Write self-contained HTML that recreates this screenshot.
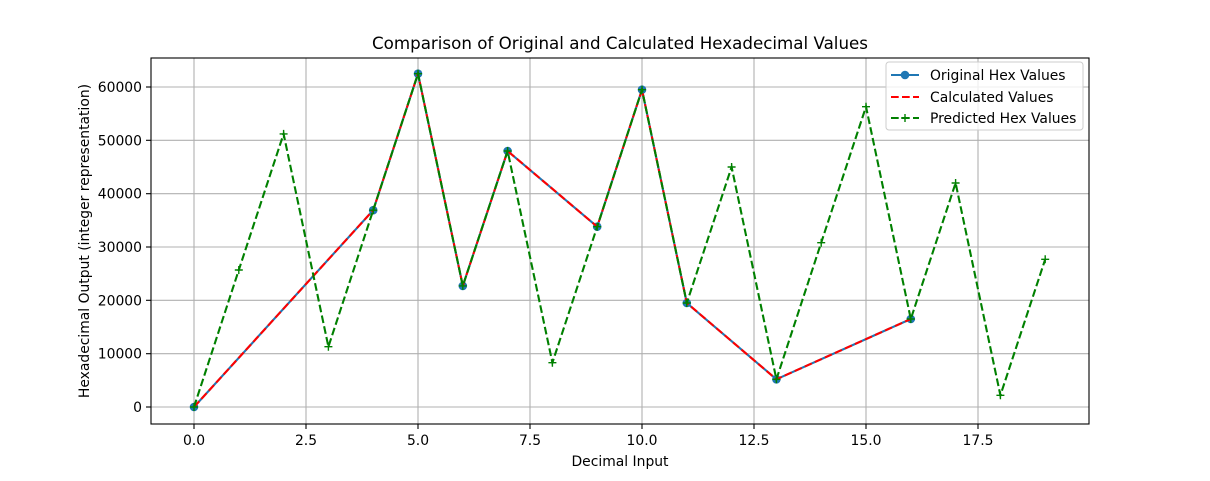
<!DOCTYPE html>
<html><head><meta charset="utf-8"><style>body{margin:0;background:#fff}</style></head><body>
<svg width="1210" height="476" xmlns="http://www.w3.org/2000/svg" font-family="DejaVu Sans, Liberation Sans, sans-serif">
<rect width="1210" height="476" fill="#fff"/>
<g stroke="#b0b0b0" stroke-width="1.1">
<line x1="194" y1="58" x2="194" y2="424"/><line x1="306" y1="58" x2="306" y2="424"/><line x1="418" y1="58" x2="418" y2="424"/><line x1="530" y1="58" x2="530" y2="424"/><line x1="642" y1="58" x2="642" y2="424"/><line x1="754" y1="58" x2="754" y2="424"/><line x1="866" y1="58" x2="866" y2="424"/><line x1="978" y1="58" x2="978" y2="424"/>
<line x1="151" y1="407" x2="1089" y2="407"/><line x1="151" y1="353.7" x2="1089" y2="353.7"/><line x1="151" y1="300.3" x2="1089" y2="300.3"/><line x1="151" y1="247" x2="1089" y2="247"/><line x1="151" y1="193.7" x2="1089" y2="193.7"/><line x1="151" y1="140.3" x2="1089" y2="140.3"/><line x1="151" y1="87" x2="1089" y2="87"/>
</g>
<g stroke="#000" stroke-width="1.1">
<line x1="194" y1="424" x2="194" y2="429"/><line x1="306" y1="424" x2="306" y2="429"/><line x1="418" y1="424" x2="418" y2="429"/><line x1="530" y1="424" x2="530" y2="429"/><line x1="642" y1="424" x2="642" y2="429"/><line x1="754" y1="424" x2="754" y2="429"/><line x1="866" y1="424" x2="866" y2="429"/><line x1="978" y1="424" x2="978" y2="429"/>
<line x1="146" y1="407" x2="151" y2="407"/><line x1="146" y1="353.7" x2="151" y2="353.7"/><line x1="146" y1="300.3" x2="151" y2="300.3"/><line x1="146" y1="247" x2="151" y2="247"/><line x1="146" y1="193.7" x2="151" y2="193.7"/><line x1="146" y1="140.3" x2="151" y2="140.3"/><line x1="146" y1="87" x2="151" y2="87"/>
</g>
<g font-size="13.9" text-anchor="middle" fill="#000">
<text x="194" y="445">0.0</text><text x="306" y="445">2.5</text><text x="418" y="445">5.0</text><text x="530" y="445">7.5</text><text x="642" y="445">10.0</text><text x="754" y="445">12.5</text><text x="866" y="445">15.0</text><text x="978" y="445">17.5</text>
</g>
<g font-size="13.9" text-anchor="end" fill="#000">
<text x="142" y="412">0</text><text x="142" y="358.7">10000</text><text x="142" y="305.3">20000</text><text x="142" y="252">30000</text><text x="142" y="198.7">40000</text><text x="142" y="145.3">50000</text><text x="142" y="92">60000</text>
</g>
<text x="620" y="466" font-size="13.9" text-anchor="middle">Decimal Input</text>
<text transform="translate(89,241) rotate(-90)" font-size="13.9" text-anchor="middle">Hexadecimal Output (integer representation)</text>
<text x="620" y="49" font-size="16.7" text-anchor="middle">Comparison of Original and Calculated Hexadecimal Values</text>
<polyline fill="none" stroke="#1f77b4" stroke-width="2.1" points="194,407 373.2,210.2 418,73.7 462.8,285.9 507.6,151 597.2,226.7 642,89.7 686.8,303 776.4,379.3 910.8,319"/>
<g fill="#1f77b4"><circle cx="194" cy="407" r="4.3"/><circle cx="373.2" cy="210.2" r="4.3"/><circle cx="418" cy="73.7" r="4.3"/><circle cx="462.8" cy="285.9" r="4.3"/><circle cx="507.6" cy="151" r="4.3"/><circle cx="597.2" cy="226.7" r="4.3"/><circle cx="642" cy="89.7" r="4.3"/><circle cx="686.8" cy="303" r="4.3"/><circle cx="776.4" cy="379.3" r="4.3"/><circle cx="910.8" cy="319" r="4.3"/></g>
<polyline fill="none" stroke="#ff0000" stroke-width="2.1" stroke-dasharray="7.7,3.3" points="194,407 373.2,210.2 418,73.7 462.8,285.9 507.6,151 597.2,226.7 642,89.7 686.8,303 776.4,379.3 910.8,319"/>
<polyline fill="none" stroke="#008000" stroke-width="2.1" stroke-dasharray="7.7,3.3" points="194,407 238.8,270 283.6,133.9 328.4,346.7 373.2,210.2 418,73.7 462.8,285.9 507.6,151 552.4,362.7 597.2,226.7 642,89.7 686.8,303 731.6,167 776.4,379.3 821.2,242.7 866,106.7 910.8,319 955.6,183 1000.4,395.3 1045.2,259.3"/>
<g stroke="#008000" stroke-width="1.4">
<path d="M190,407h8M194,403v8M234.8,270h8M238.8,266v8M279.6,133.9h8M283.6,129.9v8M324.4,346.7h8M328.4,342.7v8M369.2,210.2h8M373.2,206.2v8M414,73.7h8M418,69.7v8M458.8,285.9h8M462.8,281.9v8M503.6,151h8M507.6,147v8M548.4,362.7h8M552.4,358.7v8M593.2,226.7h8M597.2,222.7v8M638,89.7h8M642,85.7v8M682.8,303h8M686.8,299v8M727.6,167h8M731.6,163v8M772.4,379.3h8M776.4,375.3v8M817.2,242.7h8M821.2,238.7v8M862,106.7h8M866,102.7v8M906.8,319h8M910.8,315v8M951.6,183h8M955.6,179v8M996.4,395.3h8M1000.4,391.3v8M1041.2,259.3h8M1045.2,255.3v8"/>
</g>
<rect x="151" y="58" width="938" height="366" fill="none" stroke="#000" stroke-width="1.1"/>
<rect x="886" y="62" width="197" height="68" rx="3" fill="#fff" fill-opacity="0.8" stroke="#ccc"/>
<line x1="891" y1="75" x2="919" y2="75" stroke="#1f77b4" stroke-width="2.1"/><circle cx="905" cy="75" r="4.3" fill="#1f77b4"/>
<line x1="891" y1="97" x2="919" y2="97" stroke="#ff0000" stroke-width="2.1" stroke-dasharray="7.7,3.3"/>
<line x1="891" y1="118" x2="919" y2="118" stroke="#008000" stroke-width="2.1" stroke-dasharray="7.7,3.3"/><path d="M901,118h8M905,114v8" stroke="#008000" stroke-width="1.4"/>
<g font-size="13.9"><text x="930" y="80">Original Hex Values</text><text x="930" y="102">Calculated Values</text><text x="930" y="123">Predicted Hex Values</text></g>
</svg>
</body></html>
